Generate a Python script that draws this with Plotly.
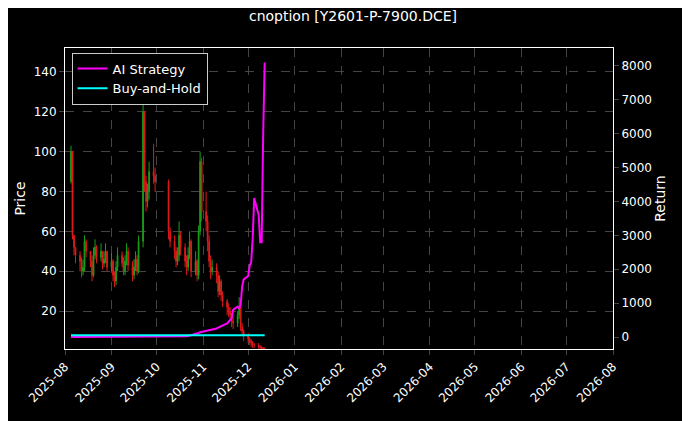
import pandas as pd
import plotly.graph_objects as go

dates = [d for d in pd.bdate_range("2025-08-05", "2025-12-12") if not (pd.Timestamp("2025-10-01") <= d <= pd.Timestamp("2025-10-08"))]

closes = [100, 58, 52, 48, 45, 40, 42, 55, 50, 45, 38, 48, 52, 47, 50, 44, 46, 50, 42,
          45, 38, 35, 42, 48, 44, 40, 45, 50, 43, 38, 42, 46, 40, 55, 120, 85, 75, 80, 90, 88, 85,
          60, 55, 50, 45, 48, 58, 52, 45, 42, 48, 55, 40, 45, 38, 60, 95, 70,
          65, 55, 45, 40, 42, 38, 30, 35, 28, 25, 22, 20, 18, 15, 14, 18, 22, 12, 10, 8,
          6, 5, 4, 3, 3, 2, 2, 1.5, 1.2, 1]
opens = [85] + closes[:-1]
highs = [103, 61, 58, 52, 50, 47, 46, 58, 56, 50, 48, 52, 56, 53, 54, 50, 50, 54, 50,
         49, 46, 40, 45, 52, 50, 47, 48, 54, 52, 45, 46, 50, 48, 58, 125, 120, 88, 84, 95, 104, 92,
         86, 62, 58, 52, 52, 65, 60, 54, 48, 52, 60, 56, 50, 46, 63, 100, 97,
         80, 68, 58, 48, 46, 44, 40, 38, 36, 30, 26, 24, 22, 19, 17, 20, 27, 24, 14, 11,
         9, 7, 6, 5, 4, 4, 3, 2.5, 2, 1.8]
lows = [84, 56, 48, 44, 40, 37, 38, 40, 47, 42, 35, 37, 46, 44, 45, 41, 42, 44, 40,
        40, 35, 32, 33, 40, 42, 38, 38, 43, 40, 35, 36, 40, 38, 39, 52, 80, 70, 72, 76, 84, 80,
        56, 52, 46, 42, 43, 45, 48, 42, 38, 40, 46, 37, 38, 35, 36, 58, 65,
        60, 50, 42, 36, 38, 34, 27, 28, 25, 22, 18, 17, 15, 12, 11, 12, 16, 10, 8, 5,
        4, 3, 2, 1.5, 1.5, 1, 1, 0.8, 0.6, 0.5]

strategy = [0]*19 + [0]*22 + [0, 0, 0, 0, 0, 0, 0, 10, 20, 30, 40, 60, 80, 100, 120, 140, 150,
            160, 170, 180, 200, 220, 250, 280, 300, 320, 350, 400, 450, 500, 550, 800, 900, 850, 950, 1500, 1700,
            1800, 2100, 2200, 2900, 4100, 3600, 2800, 2800, 6000, 8100]
buy_hold = [50]*len(dates)

fig = go.Figure()
fig.add_trace(go.Candlestick(x=dates, open=opens, high=highs, low=lows, close=closes,
    increasing=dict(line=dict(color="#1a9e1a", width=1), fillcolor="#1a9e1a"),
    decreasing=dict(line=dict(color="#e01a1a", width=1), fillcolor="#e01a1a"),
    showlegend=False, whiskerwidth=0))
fig.add_trace(go.Scatter(x=dates, y=strategy, mode="lines", name="AI Strategy",
    line=dict(color="#ff00ff", width=2), yaxis="y2"))
fig.add_trace(go.Scatter(x=dates, y=buy_hold, mode="lines", name="Buy-and-Hold",
    line=dict(color="#00ffff", width=2), yaxis="y2"))

grid = dict(showgrid=True, gridcolor="#444", griddash="dash", gridwidth=0.6)
fig.update_layout(
    width=690, height=421, paper_bgcolor="black", plot_bgcolor="black",
    font=dict(family="DejaVu Sans", color="white", size=12),
    title=dict(text="cnoption [Y2601-P-7900.DCE]", x=0.5, y=0.98, xanchor="center", yanchor="middle", font=dict(size=14)),
    margin=dict(l=57, r=85, t=40, b=80, autoexpand=False),
    xaxis=dict(range=["2025-08-01", "2026-08-01"], rangeslider=dict(visible=False), dtick="M1",
               tickformat="%Y-%m", tickangle=-45, ticks="outside", showline=True, linecolor="white",
               mirror=True, automargin=False, **grid),
    yaxis=dict(title=dict(text="Price", standoff=4), range=[1, 152], tickvals=[20, 40, 60, 80, 100, 120, 140],
               ticks="outside", showline=True, linecolor="white", zeroline=False, automargin=False, **grid),
    yaxis2=dict(title=dict(text="Return", standoff=4), overlaying="y", side="right", range=[-354, 8531],
                tickvals=list(range(0, 8001, 1000)), ticks="outside", showgrid=False, zeroline=False,
                showline=True, linecolor="white", automargin=False),
    legend=dict(x=0.012, y=0.985, xanchor="left", yanchor="top", bgcolor="black",
                bordercolor="#cccccc", borderwidth=1, font=dict(size=13), tracegroupgap=2),
)
fig.write_html("out.html")
